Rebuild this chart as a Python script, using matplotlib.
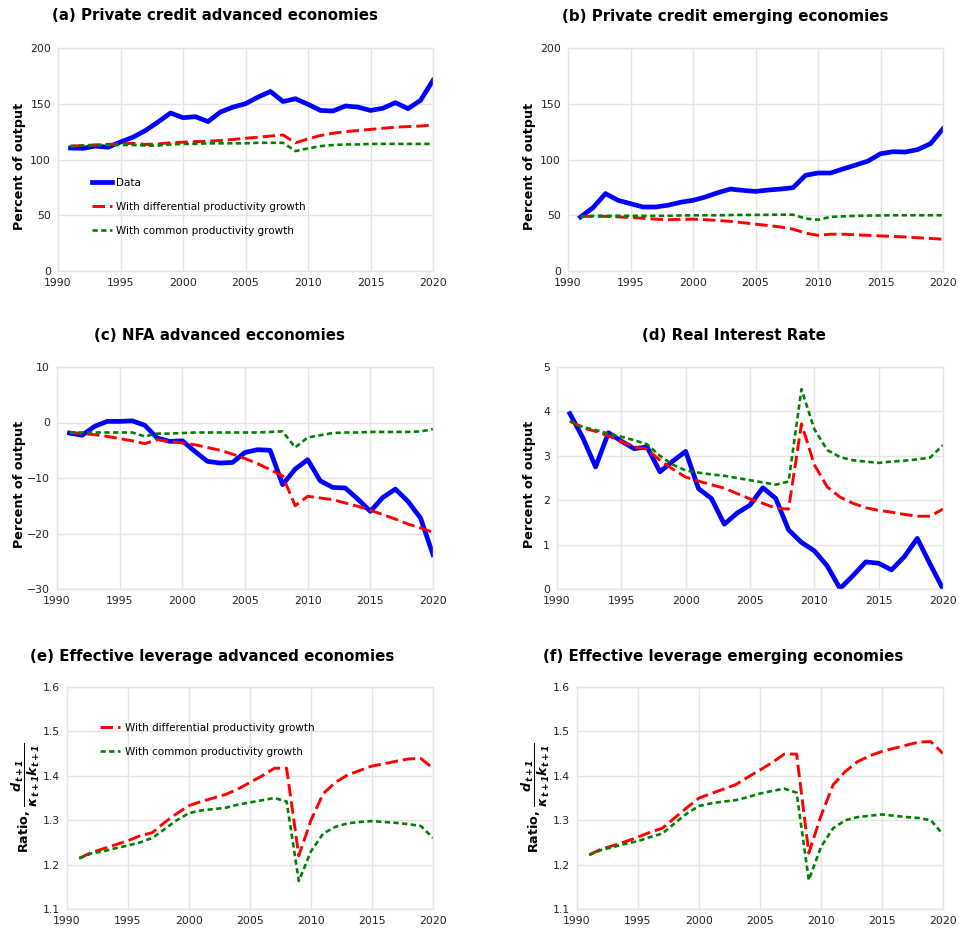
import matplotlib
matplotlib.use("Agg")
import matplotlib.pyplot as plt

# ---- data ----
years = list(range(1991, 2021))

# (a) private credit, advanced economies
credit_adv_data = [110.3, 110, 112, 111, 115.7, 120, 126, 133.6, 141.7, 137.5,
                   138.4, 134, 142.6, 147, 150, 156, 161, 152, 154.5, 149.5,
                   144, 143.5, 148, 147, 144, 146, 151, 145.6, 153, 171]
credit_adv_diff = [112, 112.5, 113, 113.5, 114, 114.5, 113.5, 114, 115, 115.5,
                   116, 116.5, 117, 118, 119, 120, 121, 122, 115, 118.5,
                   121.5, 123.5, 125, 126, 127, 128, 129, 129.5, 130, 131]
credit_adv_comm = [112, 112.5, 113, 113, 113, 113, 112.5, 112.5, 113.5, 114,
                   114, 114.5, 114.5, 114.5, 114.5, 115, 115, 115, 107.5, 110,
                   112, 113, 113.5, 113.5, 114, 114, 114, 114, 114, 114]

# (b) private credit, emerging economies
credit_em_data = [48.4, 56.8, 69.4, 63.4, 60.4, 57.4, 57.4, 59, 61.6, 63.4,
                  66.4, 70.3, 73.5, 72.3, 71.4, 72.6, 73.5, 74.7, 85.8, 87.9,
                  87.9, 91.5, 95, 98.6, 105.2, 107, 106.7, 109, 114.2, 127.6]
credit_em_diff = [49, 49, 49, 48.5, 48, 47.3, 46.5, 46, 46.3, 46.5,
                  46, 45.3, 44.5, 43.3, 42, 40.8, 39.5, 37.5, 34, 32,
                  33, 33, 32.5, 32, 31.5, 31, 30.5, 29.8, 29.2, 28.5]
credit_em_comm = [48.5, 49.5, 49.5, 49.5, 49.5, 49.5, 49.5, 49.5, 49.8, 50,
                  50, 50, 50.2, 50.3, 50.3, 50.4, 50.5, 50.5, 47, 46,
                  48.5, 49, 49.5, 49.7, 49.8, 50, 50, 50, 50, 50]

# (c) NFA, advanced economies
nfa_data = [-1.9, -2.3, -0.7, 0.2, 0.2, 0.3, -0.5, -2.8, -3.4, -3.3,
            -5.2, -7, -7.3, -7.2, -5.4, -4.9, -5, -11.2, -8.4, -6.7,
            -10.5, -11.7, -11.8, -13.8, -16, -13.5, -12, -14.2, -17.2, -23.8]
nfa_diff = [-1.8, -2, -2.2, -2.5, -2.9, -3.3, -3.8, -3.1, -3.4, -3.7,
            -4, -4.5, -5, -5.7, -6.5, -7.4, -8.5, -9.6, -15, -13.3,
            -13.6, -13.9, -14.5, -15.1, -15.8, -16.6, -17.4, -18.3, -19, -19.8]
nfa_comm = [-1.8, -1.8, -1.8, -1.8, -1.8, -1.8, -2.5, -2, -2, -1.9,
            -1.8, -1.8, -1.8, -1.8, -1.8, -1.8, -1.7, -1.6, -4.5, -2.7,
            -2.3, -1.9, -1.8, -1.8, -1.7, -1.7, -1.7, -1.7, -1.6, -1.2]

# (d) real interest rate
rate_data = [3.95, 3.41, 2.75, 3.52, 3.33, 3.16, 3.2, 2.64, 2.88, 3.1,
             2.26, 2.04, 1.46, 1.71, 1.89, 2.28, 2.04, 1.33, 1.05, 0.86,
             0.52, 0.01, 0.3, 0.61, 0.58, 0.43, 0.73, 1.14, 0.56, 0.0]
rate_diff = [3.78, 3.63, 3.55, 3.45, 3.32, 3.2, 3.15, 2.9, 2.7, 2.52,
             2.43, 2.35, 2.27, 2.15, 2.03, 1.93, 1.82, 1.8, 3.72, 2.8,
             2.3, 2.07, 1.93, 1.83, 1.77, 1.73, 1.68, 1.64, 1.64, 1.8]
rate_comm = [3.78, 3.65, 3.58, 3.5, 3.43, 3.35, 3.26, 3.0, 2.8, 2.67,
             2.62, 2.58, 2.55, 2.5, 2.45, 2.4, 2.35, 2.42, 4.5, 3.6,
             3.13, 2.97, 2.9, 2.87, 2.84, 2.87, 2.89, 2.92, 2.96, 3.24]

# (e) effective leverage, advanced economies
lev_adv_diff = [1.2145, 1.227, 1.236, 1.245, 1.254, 1.265, 1.272, 1.295, 1.315, 1.333,
                1.342, 1.35, 1.358, 1.37, 1.385, 1.4, 1.417, 1.417, 1.22, 1.3,
                1.36, 1.385, 1.402, 1.412, 1.422, 1.427, 1.433, 1.438, 1.439, 1.417]
lev_adv_comm = [1.214, 1.225, 1.23, 1.237, 1.243, 1.25, 1.26, 1.28, 1.3, 1.316,
                1.322, 1.325, 1.328, 1.335, 1.34, 1.345, 1.35, 1.342, 1.163, 1.23,
                1.27, 1.285, 1.293, 1.296, 1.298, 1.296, 1.294, 1.291, 1.287, 1.26]

# (f) effective leverage, emerging economies
lev_em_diff = [1.222, 1.235, 1.243, 1.252, 1.262, 1.273, 1.282, 1.305, 1.328, 1.35,
               1.36, 1.37, 1.38, 1.397, 1.413, 1.43, 1.449, 1.449, 1.226, 1.31,
               1.38, 1.41, 1.432, 1.445, 1.455, 1.462, 1.469, 1.476, 1.477, 1.45]
lev_em_comm = [1.222, 1.233, 1.24, 1.247, 1.253, 1.262, 1.27, 1.293, 1.315, 1.332,
               1.338, 1.342, 1.345, 1.352, 1.36, 1.366, 1.371, 1.362, 1.165, 1.24,
               1.282, 1.3, 1.307, 1.31, 1.313, 1.31, 1.307, 1.305, 1.3, 1.268]

xticks = [1990, 1995, 2000, 2005, 2010, 2015, 2020]
lab_data = "Data"
lab_diff = "With differential productivity growth"
lab_comm = "With common productivity growth"
ratio_label = r"Ratio, $\mathbfit{\dfrac{d_{t+1}}{\kappa_{t+1}k_{t+1}}}$"

# ---- figure ----
W, H = 959, 931
fig = plt.figure(figsize=(W / 100, H / 100), dpi=100)
plt.rcParams["font.family"] = ["DejaVu Sans"]

GRID = "#e4e4e4"


def make_axes(left, top, right, bottom):
    # pixel box -> figure fraction
    return fig.add_axes([left / W, 1 - bottom / H, (right - left) / W, (bottom - top) / H])


def style(ax, ylim, yticks, ylabel, label_x, label_y=0.47):
    ax.set_xlim(1990, 2020)
    ax.set_ylim(*ylim)
    ax.set_xticks(xticks)
    ax.set_yticks(yticks)
    ax.grid(True, color=GRID, linewidth=1)
    ax.set_axisbelow(True)
    for s in ax.spines.values():
        s.set_color(GRID)
        s.set_linewidth(1)
    ax.tick_params(length=0, labelsize=7.8, pad=5, colors="#222222")
    ax.set_ylabel(ylabel, fontsize=9.2, fontweight="bold")
    # right edge of the y label at given pixel x
    bb = ax.get_position()
    ax.yaxis.set_label_coords((label_x / W - bb.x0) / bb.width, label_y)


def draw(ax, data, diff, comm):
    if data is not None:
        ax.plot(years, data, color="#0000ff", lw=3.4, label=lab_data)
    ax.plot(years, diff, color="#ff0000", lw=2.1, dashes=(4.3, 1.7), label=lab_diff)
    ax.plot(years, comm, color="#008000", lw=1.9, dashes=(2.0, 1.3), label=lab_comm)


leg_kw = dict(loc="upper left", frameon=False, fontsize=7.5, labelspacing=1.35,
              handlelength=1.9, handletextpad=0.45)

# (a)
ax1 = make_axes(58, 48, 433, 271)
draw(ax1, credit_adv_data, credit_adv_diff, credit_adv_comm)
style(ax1, (0, 200), [0, 50, 100, 150, 200], "Percent of output", 26)
ax1.legend(bbox_to_anchor=(0.065, 0.46), **leg_kw)

# (b)
ax2 = make_axes(568, 48, 943, 271)
draw(ax2, credit_em_data, credit_em_diff, credit_em_comm)
style(ax2, (0, 200), [0, 50, 100, 150, 200], "Percent of output", 536)

# (c)
ax3 = make_axes(57, 367, 433, 589)
draw(ax3, nfa_data, nfa_diff, nfa_comm)
style(ax3, (-30, 10), [-30, -20, -10, 0, 10], "Percent of output", 26)

# (d)
ax4 = make_axes(557, 367, 943, 589)
draw(ax4, rate_data, rate_diff, rate_comm)
style(ax4, (0, 5), [0, 1, 2, 3, 4, 5], "Percent of output", 536)

# (e)
ax5 = make_axes(67, 687, 433, 909)
draw(ax5, None, lev_adv_diff, lev_adv_comm)
style(ax5, (1.1, 1.6), [1.1, 1.2, 1.3, 1.4, 1.5, 1.6], ratio_label, 42, 0.5)
ax5.legend(bbox_to_anchor=(0.065, 0.88), **leg_kw)

# (f)
ax6 = make_axes(577, 687, 943, 909)
draw(ax6, None, lev_em_diff, lev_em_comm)
style(ax6, (1.1, 1.6), [1.1, 1.2, 1.3, 1.4, 1.5, 1.6], ratio_label, 552, 0.5)

# panel titles
titles = [("(a) Private credit advanced economies", 215, 16),
          ("(b) Private credit emerging economies", 725, 16),
          ("(c) NFA advanced ecconomies", 219, 336),
          ("(d) Real Interest Rate", 734, 336),
          ("(e) Effective leverage advanced economies", 212, 656),
          ("(f) Effective leverage emerging economies", 723, 656)]
for t, x, y in titles:
    fig.text(x / W, 1 - y / H, t, ha="center", va="center", fontsize=10.8, fontweight="bold")

fig.savefig("out.png", dpi=100)
